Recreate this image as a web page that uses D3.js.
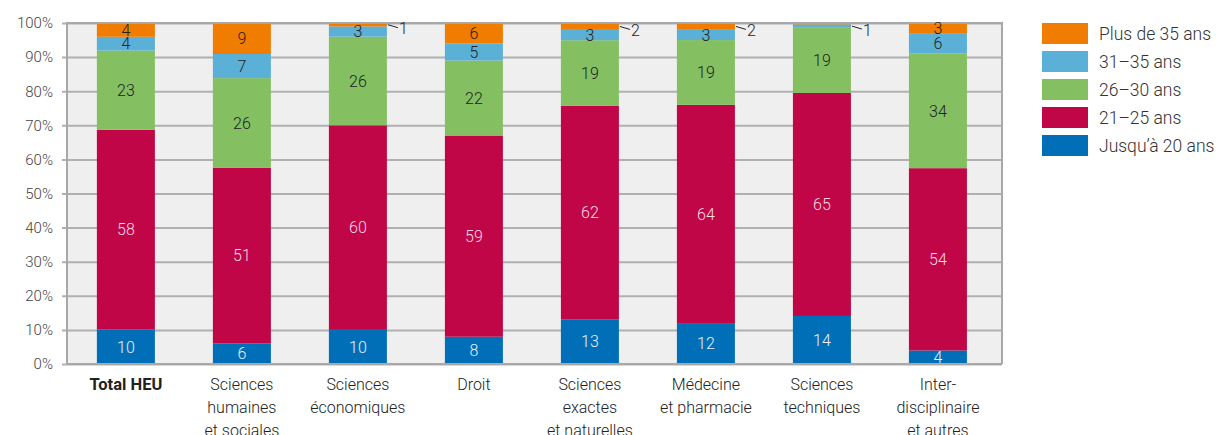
<!DOCTYPE html>
<html>
<head>
<meta charset="utf-8">
<script src="https://cdn.jsdelivr.net/npm/d3@7"></script>
<style>
  body { margin: 0; background: #fff; font-family: Roboto, "Noto Sans", sans-serif; }
  text { font-family: Roboto, "Noto Sans", sans-serif; }
</style>
</head>
<body>
<div id="chart"></div>
<script>
// categories and their (wrapped) labels
const categories = ["Total HEU", "Sciences humaines et sociales", "Sciences économiques", "Droit",
  "Sciences exactes et naturelles", "Médecine et pharmacie", "Sciences techniques", "Interdisciplinaire et autres"];
const categoryLines = [
  ["Total HEU"], ["Sciences", "humaines", "et sociales"], ["Sciences", "économiques"], ["Droit"],
  ["Sciences", "exactes", "et naturelles"], ["Médecine", "et pharmacie"], ["Sciences", "techniques"],
  ["Inter-", "disciplinaire", "et autres"]
];

// series (bottom to top)
const seriesNames = ["Jusqu’à 20 ans", "21–25 ans", "26–30 ans", "31–35 ans", "Plus de 35 ans"];
const seriesColors = ["#006fb8", "#c00646", "#84bf62", "#5ab0d6", "#f07d00"];
const labelColors = ["#e8f0f8", "#f6dce6", "#222", "#222", "#222"];

const upTo20   = [10,  6, 10,  8, 13, 12, 14,  4];
const age21_25 = [58, 51, 60, 59, 62, 64, 65, 54];
const age26_30 = [23, 26, 26, 22, 19, 19, 19, 34];
const age31_35 = [ 4,  7,  3,  5,  3,  3,  1,  6];
const over35   = [ 4,  9,  1,  6,  2,  2, 0.4, 3];

const yTicks = [0, 0.1, 0.2, 0.3, 0.4, 0.5, 0.6, 0.7, 0.8, 0.9, 1];

const allSeries = [upTo20, age21_25, age26_30, age31_35, over35];
const keys = ["s0", "s1", "s2", "s3", "s4"];
const rows = categories.map(function(c, i) {
  let r = {cat: c};
  allSeries.forEach(function(s, j) { r[keys[j]] = s[i]; });
  return r;
});

const W = 1217, H = 435;
const margin = {top: 23, right: 215, bottom: 71, left: 67};
const width = W - margin.left - margin.right;
const height = H - margin.top - margin.bottom;

const svg = d3.select("#chart").append("svg")
  .attr("width", W).attr("height", H);
const g = svg.append("g")
  .attr("transform", "translate(" + margin.left + "," + margin.top + ")");

const x = d3.scaleBand().domain(categories).range([0, width])
  .paddingInner(0.5).paddingOuter(0.28).align(0.46);
const y = d3.scaleLinear().domain([0, 1]).range([height, 0]);

// plot background
g.append("rect").attr("x", 0).attr("y", 0).attr("width", width).attr("height", height).attr("fill", "#efefef");

// gridlines + y axis
const yAxis = g.append("g")
  .call(d3.axisLeft(y).tickValues(yTicks).tickFormat(d3.format(".0%")).tickSize(5).tickPadding(9));
yAxis.select(".domain").remove();
yAxis.selectAll(".tick line").attr("stroke", "#b0b0b0").attr("stroke-width", 2)
  .attr("x1", -5).attr("x2", width);
yAxis.selectAll(".tick text").attr("fill", "#444").style("font-size", "15px").style("font-weight", 300);

const stack = d3.stack().keys(keys).offset(d3.stackOffsetExpand);
const stacked = stack(rows);

const layers = g.selectAll(".layer").data(stacked).enter().append("g")
  .attr("fill", function(d, i) { return seriesColors[i]; });

layers.selectAll("rect").data(function(d) { return d; }).enter().append("rect")
  .attr("x", function(d) { return x(d.data.cat); })
  .attr("y", function(d) { return y(d[1]); })
  .attr("width", x.bandwidth())
  .attr("height", function(d) { return y(d[0]) - y(d[1]); });

// border (left axis, top, right)
g.append("path")
  .attr("d", "M0," + height + "V0H" + width + "V" + height)
  .attr("fill", "none").attr("stroke", "#a8a8a8").attr("stroke-width", 2);
g.append("line").attr("x1", 0).attr("x2", width).attr("y1", height).attr("y2", height)
  .attr("stroke", "#a8a8a8").attr("stroke-width", 2);

// value labels
stacked.forEach(function(layer, i) {
  layer.forEach(function(d, k) {
    const v = allSeries[i][k];
    if (v < 1) return;
    const mid = (y(d[0]) + y(d[1])) / 2;
    const bx = x(d.data.cat);
    if (v >= 3) {
      g.append("text")
        .attr("x", bx + x.bandwidth() / 2)
        .attr("y", mid)
        .attr("dy", "0.36em")
        .attr("text-anchor", "middle")
        .attr("fill", labelColors[i])
        .style("font-size", "16px").style("font-weight", 300)
        .text(v);
    } else {
      const x0 = bx + x.bandwidth();
      g.append("line")
        .attr("x1", x0 + 1).attr("y1", mid)
        .attr("x2", x0 + 11).attr("y2", mid + 3)
        .attr("stroke", "#222").attr("stroke-width", 1);
      g.append("text")
        .attr("x", x0 + 12)
        .attr("y", mid + 4)
        .attr("dy", "0.36em")
        .attr("fill", "#222")
        .style("font-size", "16px").style("font-weight", 300)
        .text(v);
    }
  });
});

// x axis labels
const xl = g.selectAll(".xlab").data(categories).enter().append("text")
  .attr("text-anchor", "middle")
  .attr("fill", "#222")
  .style("font-size", function(d, i) { return i === 0 ? "16.5px" : "16px"; })
  .style("font-weight", function(d, i) { return i === 0 ? 700 : 300; })
  .attr("transform", function(d) { return "translate(" + (x(d) + x.bandwidth() / 2) + "," + (height + 26) + ")"; });
xl.each(function(d, i) {
  const t = d3.select(this);
  categoryLines[i].forEach(function(line, j) {
    t.append("tspan").attr("x", 0).attr("y", j * 23).text(line);
  });
});

// legend (top to bottom: reverse order)
const legend = svg.append("g").attr("transform", "translate(1042,23)");
const legendOrder = [4, 3, 2, 1, 0];
legendOrder.forEach(function(si, r) {
  const row = legend.append("g").attr("transform", "translate(0," + (r * 28) + ")");
  row.append("rect").attr("width", 46).attr("height", 21).attr("fill", seriesColors[si]);
  row.append("text").attr("x", 57).attr("y", 11).attr("dy", "0.36em")
    .attr("fill", "#333").style("font-size", "17.5px").style("font-weight", 300)
    .text(seriesNames[si]);
});
</script>
</body>
</html>
